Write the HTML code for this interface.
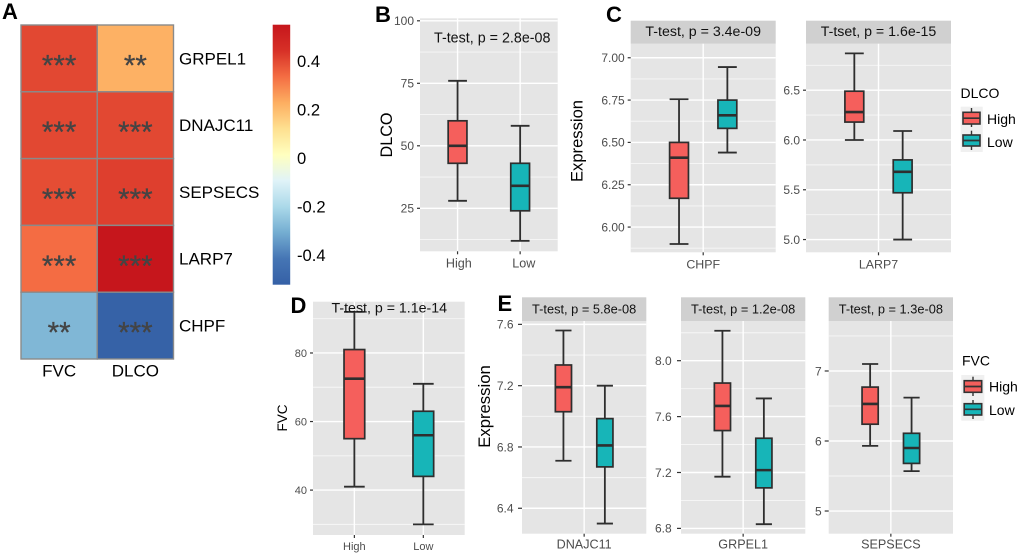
<!DOCTYPE html>
<html lang="en">
<head>
<meta charset="utf-8">
<title>Correlation heatmap and T-test box plots</title>
<style>
html,body{margin:0;padding:0;background:#fff;width:1020px;height:557px;overflow:hidden}
svg{display:block;filter:blur(.3px)}
text{font-family:"Liberation Sans",Arial,sans-serif}
.letter{font-size:22px;font-weight:bold;fill:#000}
.ytitle{fill:#000;text-anchor:middle}
.legend{font-size:14px;fill:#000}
</style>
</head>
<body>
<svg id="figure" xmlns="http://www.w3.org/2000/svg" width="1020" height="557" viewBox="0 0 1020 557">
  <rect width="1020" height="557" fill="#fff"/>
  <defs>
    <linearGradient id="cbar" x1="0" y1="0" x2="0" y2="1"></linearGradient>
  </defs>
  <g id="heatmap"></g>
  <g id="boxes"></g>

  <text class="letter" x="2" y="19">A</text>
  <text class="letter" x="375" y="22">B</text>
  <text class="letter" x="606" y="22">C</text>
  <text class="letter" x="290.5" y="313">D</text>
  <text class="letter" x="497.5" y="311">E</text>

  <text class="ytitle" font-size="16.2" transform="translate(392 135) rotate(-90)">DLCO</text>
  <text class="ytitle" font-size="16.6" transform="translate(582.5 141) rotate(-90)">Expression</text>
  <text class="ytitle" font-size="13.5" transform="translate(287 418) rotate(-90)">FVC</text>
  <text class="ytitle" font-size="16.7" transform="translate(490 406.5) rotate(-90)">Expression</text>

  <g>
    <text class="legend" x="960.5" y="98">DLCO</text>
    <rect x="960.7" y="106.7" width="22" height="45.3" fill="#f0f0f0"/>
    <g stroke="#333" fill="none">
      <path d="M971.5 108V127" stroke-width="1.4"/>
      <rect x="963" y="112.3" width="17" height="11.7" fill="#f55f5c" stroke-width="1.6"/>
      <path d="M963 118.2H980" stroke-width="1.7"/>
    </g>
    <g stroke="#333" fill="none">
      <path d="M971.5 130.7V150" stroke-width="1.4"/>
      <rect x="963" y="135" width="17" height="11" fill="#17b5b8" stroke-width="1.6"/>
      <path d="M963 140.5H980" stroke-width="1.7"/>
    </g>
    <text class="legend" x="987" y="124">High</text>
    <text class="legend" x="987" y="147">Low</text>
  </g>

  <g>
    <text class="legend" x="962" y="365.5">FVC</text>
    <rect x="961.3" y="375" width="23" height="45.7" fill="#f0f0f0"/>
    <g stroke="#333" fill="none">
      <path d="M973 376.7V396" stroke-width="1.4"/>
      <rect x="964.2" y="380.7" width="17.5" height="11.6" fill="#f55f5c" stroke-width="1.6"/>
      <path d="M964.2 386.5H981.7" stroke-width="1.7"/>
    </g>
    <g stroke="#333" fill="none">
      <path d="M973 400V419" stroke-width="1.4"/>
      <rect x="964.2" y="403.7" width="17.5" height="11.3" fill="#17b5b8" stroke-width="1.6"/>
      <path d="M964.2 409.3H981.7" stroke-width="1.7"/>
    </g>
    <text class="legend" x="989" y="391.5">High</text>
    <text class="legend" x="989" y="415">Low</text>
  </g>
</svg>

<script>
/* ---------- Panel A data ---------- */
const heatRows = ['GRPEL1', 'DNAJC11', 'SEPSECS', 'LARP7', 'CHPF'];
const heatCols = ['FVC', 'DLCO'];
const heatFVC = [0.39, 0.39, 0.38, 0.325, -0.30];
const heatDLCO = [0.21, 0.39, 0.405, 0.54, -0.53];
const heatStarsFVC = ['***', '***', '***', '***', '**'];
const heatStarsDLCO = ['**', '***', '***', '***', '***'];
const colorbarTicks = [0.4, 0.2, 0, -0.2, -0.4];
const colorbarLabels = ['0.4', '0.2', '0', '-0.2', '-0.4'];
const palette = ['#3560a6', '#4575b4', '#74add1', '#abd9e9', '#e0f3f8', '#ffffbf', '#fee090', '#fdae61', '#f46d43', '#d73027', '#c6161c'];

/* ---------- Box plot data: [whisker low, q1, median, q3, whisker high] ---------- */
const groupNames = ['High', 'Low'];
const bCategories = ['High', 'Low'];
const bTicks = [100, 75, 50, 25];
const bTickLabels = ['100', '75', '50', '25'];
const bHigh = [28, 43, 50, 60, 76];
const bLow = [12, 24, 34, 43, 58];

const c1Categories = ['CHPF'];
const c1Ticks = [7, 6.75, 6.5, 6.25, 6];
const c1TickLabels = ['7.00', '6.75', '6.50', '6.25', '6.00'];
const c1High = [5.9, 6.17, 6.41, 6.5, 6.755];
const c1Low = [6.44, 6.583, 6.66, 6.75, 6.945];

const c2Categories = ['LARP7'];
const c2Ticks = [6.5, 6, 5.5, 5];
const c2TickLabels = ['6.5', '6.0', '5.5', '5.0'];
const c2High = [6.0, 6.18, 6.28, 6.49, 6.87];
const c2Low = [5.0, 5.47, 5.68, 5.8, 6.09];

const dCategories = ['High', 'Low'];
const dTicks = [80, 60, 40];
const dTickLabels = ['80', '60', '40'];
const dHigh = [41, 55, 72.5, 81, 92];
const dLow = [30, 44, 56, 63, 71];

const e1Categories = ['DNAJC11'];
const e1Ticks = [7.6, 7.2, 6.8, 6.4];
const e1TickLabels = ['7.6', '7.2', '6.8', '6.4'];
const e1High = [6.71, 7.03, 7.19, 7.335, 7.56];
const e1Low = [6.3, 6.67, 6.81, 6.985, 7.2];

const e2Categories = ['GRPEL1'];
const e2Ticks = [8, 7.6, 7.2, 6.8];
const e2TickLabels = ['8.0', '7.6', '7.2', '6.8'];
const e2High = [7.17, 7.5, 7.676, 7.84, 8.214];
const e2Low = [6.83, 7.09, 7.217, 7.445, 7.73];

const e3Categories = ['SEPSECS'];
const e3Ticks = [7, 6, 5];
const e3TickLabels = ['7', '6', '5'];
const e3High = [5.93, 6.24, 6.53, 6.77, 7.1];
const e3Low = [5.57, 5.68, 5.9, 6.11, 6.62];

/* ---------- Panel layout (separate from the data) ---------- */
const panels = [
  {id:'b', x0:420, x1:557.7, y0:18.3, y1:251.3, lo:7.8, hi:101, ticks:bTicks, labels:bTickLabels, cats:bCategories, high:bHigh, low:bLow,
   title:'T-test, p = 2.8e-08', titleX:434, titleY:42.7, titleSize:14.3, tickSize:12, xSize:12.6, xBase:267.7, xShift:[1.3,3.7], gap:6, tickLen:3},
  {id:'c1', x0:630.7, x1:775.7, y0:43.7, y1:252.3, lo:5.851, hi:7.083, ticks:c1Ticks, labels:c1TickLabels, cats:c1Categories, high:c1High, low:c1Low,
   strip:[20.7,43.7], title:'T-test, p = 3.4e-09', titleY:36, titleSize:14.2, tickSize:12, xSize:12.4, xBase:268.3, gap:6, tickLen:3},
  {id:'c2', x0:806, x1:951, y0:43.7, y1:252.3, lo:4.872, hi:6.967, ticks:c2Ticks, labels:c2TickLabels, cats:c2Categories, high:c2High, low:c2Low,
   strip:[20.7,43.7], title:'T-tset, p = 1.6e-15', titleY:36, titleSize:14.2, tickSize:12, xSize:12.4, xBase:268.3, gap:6, tickLen:3},
  {id:'d', x0:313, x1:464.7, y0:301.7, y1:535, lo:26.9, hi:94.96, ticks:dTicks, labels:dTickLabels, cats:dCategories, high:dHigh, low:dLow,
   title:'T-test, p = 1.1e-14', titleX:331.5, titleY:312.3, titleSize:14.2, tickSize:11, xSize:11, xBase:550, xShift:[0,0], gap:6, tickLen:3},
  {id:'e1', x0:522, x1:646.3, y0:321, y1:533.7, lo:6.234, hi:7.622, ticks:e1Ticks, labels:e1TickLabels, cats:e1Categories, high:e1High, low:e1Low,
   strip:[297.3,321], title:'T-test, p = 5.8e-08', titleY:313.3, titleSize:12.8, tickSize:12, xSize:12.6, xBase:548.3, gap:8.5, tickLen:4},
  {id:'e2', x0:681, x1:805.3, y0:321, y1:533.7, lo:6.762, hi:8.284, ticks:e2Ticks, labels:e2TickLabels, cats:e2Categories, high:e2High, low:e2Low,
   strip:[297.3,321], title:'T-test, p = 1.2e-08', titleY:313.3, titleSize:12.8, tickSize:12, xSize:12.6, xBase:548.3, gap:9.3, tickLen:4},
  {id:'e3', x0:828.7, x1:953, y0:321, y1:533.7, lo:4.676, hi:7.714, ticks:e3Ticks, labels:e3TickLabels, cats:e3Categories, high:e3High, low:e3Low,
   strip:[297.3,321], title:'T-test, p = 1.3e-08', titleY:313.3, titleSize:12.8, tickSize:12, xSize:12.6, xBase:548.3, gap:7, tickLen:4}
];

const NS = 'http://www.w3.org/2000/svg';
function mk(parent, tag, attrs, txt) {
  const el = document.createElementNS(NS, tag);
  for (const k in attrs) el.setAttribute(k, attrs[k]);
  if (txt !== undefined) el.textContent = txt;
  parent.appendChild(el);
  return el;
}
function hexToRgb(h) { return [1, 3, 5].map(function (i) { return parseInt(h.substr(i, 2), 16); }); }
const COLOR_MAX = 0.54;
function colorScale(v) {
  const t = Math.max(0, Math.min(1, (v + COLOR_MAX) / (2 * COLOR_MAX))) * (palette.length - 1);
  const i = Math.min(palette.length - 2, Math.floor(t));
  const a = hexToRgb(palette[i]), b = hexToRgb(palette[i + 1]), f = t - i;
  return 'rgb(' + a.map(function (c, j) { return Math.round(c + (b[j] - c) * f); }).join(',') + ')';
}

/* ---------- Heatmap ---------- */
(function () {
  const g = document.getElementById('heatmap');
  const left = 21, right = 173.5, top = 25, bottom = 359;
  const cw = (right - left) / heatCols.length, ch = (bottom - top) / heatRows.length;
  const values = [heatFVC, heatDLCO];
  const stars = [heatStarsFVC, heatStarsDLCO];
  heatRows.forEach(function (row, r) {
    heatCols.forEach(function (col, c) {
      const cell = mk(g, 'rect', {x: left + c * cw, y: top + r * ch, width: cw, height: ch, fill: colorScale(values[c][r]), stroke: '#8a8a8a', 'stroke-width': 1.4});
      
      
    });
  });
  heatRows.forEach(function (row, r) {
    heatCols.forEach(function (col, c) {
      const s = mk(g, 'text', {x: left + (c + 0.5) * cw, y: top + (r + 0.5) * ch + 17, 'text-anchor': 'middle', 'font-size': 29.5, fill: '#444', stroke: '#444', 'stroke-width': 0.3}, stars[c][r]);
      
      
    });
    const lab = mk(g, 'text', {x: 179, y: top + (r + 0.5) * ch + 5.9, 'font-size': 17, fill: '#000'}, row);
    
    
  });
  heatCols.forEach(function (col, c) {
    const lab = mk(g, 'text', {x: left + (c + 0.5) * cw, y: 376.7, 'font-size': 17, 'text-anchor': 'middle', fill: '#000'}, col);
    
    
  });
  const grad = document.getElementById('cbar');
  palette.slice().reverse().forEach(function (col, i) {
    mk(grad, 'stop', {offset: (i / (palette.length - 1)), 'stop-color': col});
  });
  const bar = mk(g, 'rect', {x: 272.7, y: 24.7, width: 17.5, height: 260, fill: 'url(#cbar)'});
  
  
  function cbarY(v) { return 158 - v * 242.5 + 5.9; }
  colorbarTicks.forEach(function (v, i) {
    const t = mk(g, 'text', {x: 297, y: cbarY(v), 'font-size': 16.6, fill: '#000'}, colorbarLabels[i]);
    
    
  });
})();

/* ---------- Box plots ---------- */
function drawPanel(p) {
  const root = document.getElementById('boxes');
  const g = mk(root, 'g', {});
  
  

  const w = p.x1 - p.x0, h = p.y1 - p.y0;
  const y = function (v) { return p.y0 + (p.hi - v) / (p.hi - p.lo) * h; };
  const faceted = !!p.strip;

  const bg = mk(g, 'rect', {x: p.x0, y: p.y0, width: w, height: h, fill: '#e5e5e5'});
  
  

  if (faceted) {
    const st = mk(g, 'rect', {x: p.x0, y: p.strip[0], width: w, height: p.strip[1] - p.strip[0], fill: '#d0d0d0'});
    
    
  }

  /* minor grid */
  const step = Math.abs(p.ticks[0] - p.ticks[1]);
  const minors = p.ticks.map(function (t) { return t - step / 2; });
  minors.push(p.ticks[0] + step / 2);
  minors.forEach(function (m) {
    if (m > p.lo && m < p.hi) {
      const l = mk(g, 'line', {x1: p.x0, x2: p.x1, y1: y(m), y2: y(m), stroke: '#f7f7f7', 'stroke-width': 0.9});
      
      
    }
  });
  /* major grid + y ticks */
  p.ticks.forEach(function (t, i) {
    const l = mk(g, 'line', {x1: p.x0, x2: p.x1, y1: y(t), y2: y(t), stroke: '#fff', 'stroke-width': 1.4});
    
    
    const tk = mk(g, 'line', {x1: p.x0 - p.tickLen, x2: p.x0, y1: y(t), y2: y(t), stroke: '#333', 'stroke-width': 1.2});
    
    
    const lab = mk(g, 'text', {x: p.x0 - p.gap, y: y(t) + p.tickSize * 0.36, 'text-anchor': 'end', 'font-size': p.tickSize, fill: '#4d4d4d'}, p.labels[i]);
    
    
  });

  /* x positions */
  let xGrid, boxX, boxW;
  if (faceted) {
    const c = p.x0 + w / 2;
    xGrid = [c];
    boxX = [c - w / 6, c + w / 6];
    boxW = w * 0.13;
  } else {
    const stp = w / 2.2;
    xGrid = p.cats.map(function (_, i) { return p.x0 + (i + 0.6) * stp; });
    boxX = xGrid;
    boxW = stp * 0.3;
  }
  xGrid.forEach(function (x, i) {
    const l = mk(g, 'line', {x1: x, x2: x, y1: p.y0, y2: p.y1, stroke: '#fff', 'stroke-width': 1.4});
    
    
    const tk = mk(g, 'line', {x1: x, x2: x, y1: p.y1, y2: p.y1 + 3, stroke: '#333', 'stroke-width': 1.2});
    
    
    const shift = p.xShift ? p.xShift[i] : 0;
    const lab = mk(g, 'text', {x: x + shift, y: p.xBase, 'text-anchor': 'middle', 'font-size': p.xSize, fill: '#4d4d4d'}, p.cats[i]);
    
    
  });

  /* boxes */
  [p.high, p.low].forEach(function (vals, i) {
    const cx = boxX[i], hw = boxW / 2;
    const b = mk(g, 'g', {stroke: '#2e2e2e', fill: 'none'});
    
    
    mk(b, 'line', {x1: cx, x2: cx, y1: y(vals[0]), y2: y(vals[4]), 'stroke-width': 1.8});
    mk(b, 'line', {x1: cx - hw, x2: cx + hw, y1: y(vals[0]), y2: y(vals[0]), 'stroke-width': 1.8});
    mk(b, 'line', {x1: cx - hw, x2: cx + hw, y1: y(vals[4]), y2: y(vals[4]), 'stroke-width': 1.8});
    mk(b, 'rect', {x: cx - hw, y: y(vals[3]), width: boxW, height: y(vals[1]) - y(vals[3]), fill: i === 0 ? '#f55f5c' : '#17b5b8', 'stroke-width': 1.7});
    mk(b, 'line', {x1: cx - hw, x2: cx + hw, y1: y(vals[2]), y2: y(vals[2]), 'stroke-width': 2.6});
  });

  /* title */
  const attrs = {y: p.titleY, 'font-size': p.titleSize, fill: '#111'};
  if (faceted) { attrs.x = p.x0 + w / 2; attrs['text-anchor'] = 'middle'; } else { attrs.x = p.titleX; }
  const tt = mk(g, 'text', attrs, p.title);
  
  
}
panels.forEach(drawPanel);
</script>
</body>
</html>
